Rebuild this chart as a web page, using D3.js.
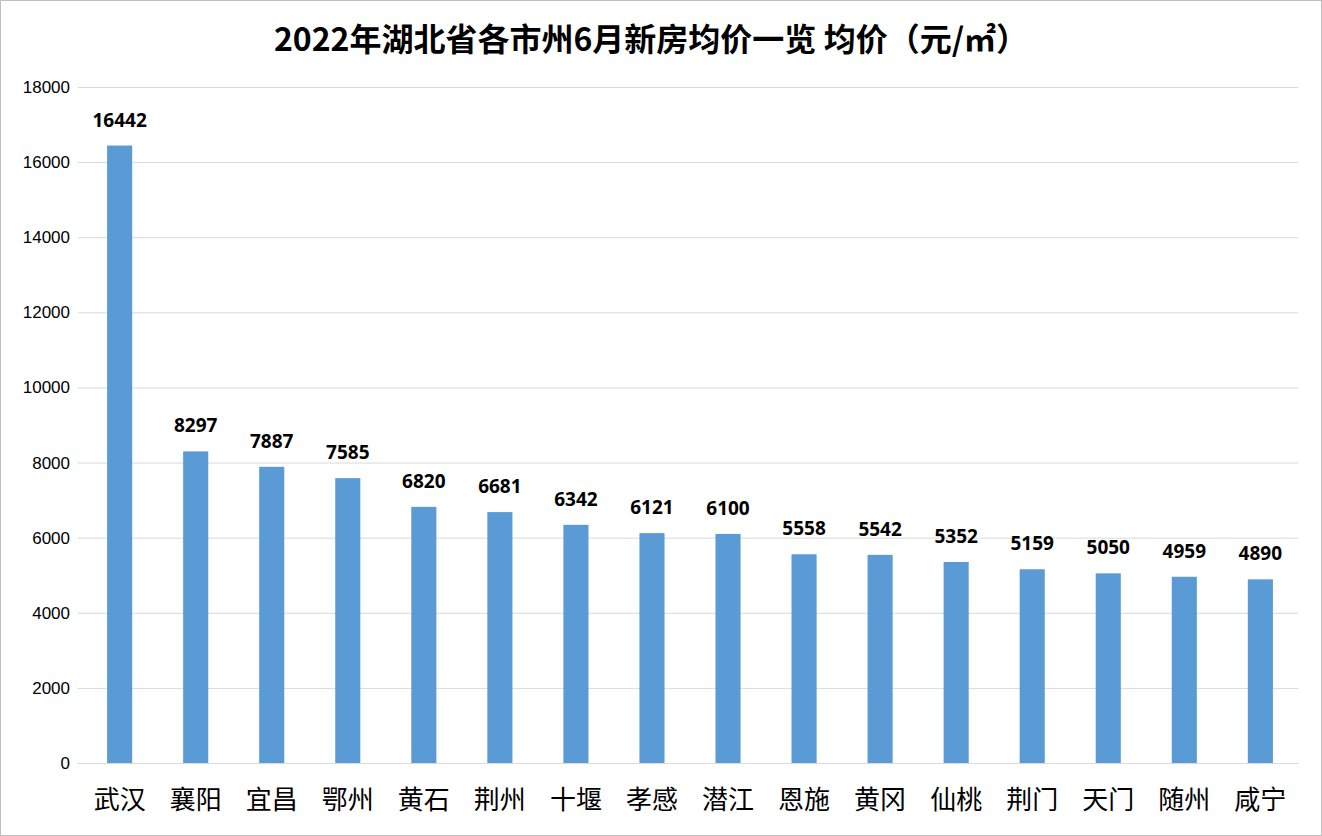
<!doctype html>
<html>
<head>
<meta charset="UTF-8">
<script src="https://d3js.org/d3.v7.min.js"></script>
<style>body{margin:0;background:#fff}</style>
</head>
<body>
<script>
var cities=["武汉","襄阳","宜昌","鄂州","黄石","荆州","十堰","孝感","潜江","恩施","黄冈","仙桃","荆门","天门","随州","咸宁"];
var prices=[16442,8297,7887,7585,6820,6681,6342,6121,6100,5558,5542,5352,5159,5050,4959,4890];
var yTicks=[0,2000,4000,6000,8000,10000,12000,14000,16000,18000];

var W=1322,H=836;
var svg=d3.select("body").append("svg").attr("width",W).attr("height",H);
svg.append("rect").attr("x",0.5).attr("y",0.5).attr("width",W-1).attr("height",H-1)
  .attr("fill","#fff").attr("stroke","#bfbfbf");

var x=d3.scaleBand().domain(cities).range([82,1298]).paddingInner(0.67).paddingOuter(0.33);
var y=d3.scaleLinear().domain([0,18000]).range([763,87]);

svg.selectAll("line.grid").data(yTicks).enter().append("line")
  .attr("x1",78).attr("x2",1298).attr("y1",d=>y(d)+0.5).attr("y2",d=>y(d)+0.5)
  .attr("stroke","#d9d9d9").attr("stroke-width",1);

svg.selectAll("text.yt").data(yTicks).enter().append("text")
  .attr("x",70).attr("y",d=>y(d)+6).attr("text-anchor","end")
  .attr("font-family","Liberation Sans, Arial").attr("font-size",17).attr("fill","#000")
  .text(d=>d);

svg.selectAll("rect.bar").data(prices).enter().append("rect")
  .attr("x",(d,i)=>x(cities[i])).attr("width",x.bandwidth())
  .attr("y",d=>y(d)).attr("height",d=>y(0)-y(d)).attr("fill","#5b9bd5");

svg.selectAll("text.val").data(prices).enter().append("text")
  .attr("x",(d,i)=>x(cities[i])+x.bandwidth()/2).attr("y",d=>y(d)-19)
  .attr("text-anchor","middle").attr("font-family","Open Sans, Liberation Sans")
  .attr("font-weight","bold").attr("font-size",19).text(d=>d);

svg.selectAll("text.cat").data(cities).enter().append("text")
  .attr("x",d=>x(d)+x.bandwidth()/2).attr("y",809)
  .attr("text-anchor","middle").attr("font-family","Noto Sans CJK SC")
  .attr("font-size",26).text(d=>d);

svg.append("text").attr("x",651).attr("y",51).attr("text-anchor","middle")
  .attr("font-family","Noto Sans CJK SC").attr("font-weight","bold").attr("font-size",32)
  .text("2022年湖北省各市州6月新房均价一览 均价（元/㎡）");
</script>
</body>
</html>
